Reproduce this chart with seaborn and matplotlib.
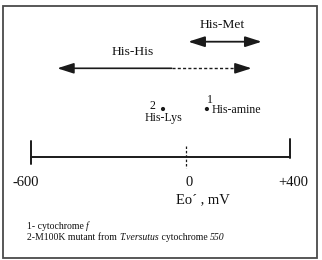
import matplotlib
matplotlib.use("Agg")
import matplotlib.pyplot as plt
from matplotlib.patches import Rectangle
import seaborn as sns
import pandas as pd

sns.set_style("white")
plt.rcParams['font.family'] = ['Liberation Serif', 'DejaVu Serif']

# ---- data (mV) ----
axis_ticks = [-600, 0, 400]
tick_labels = ["-600", "0", "+400"]
his_his_range = [-497, 251]     # His-His arrow extent
his_his_solid_end = -57         # solid part ends, dashed continues
his_met_range = [7, 290]        # His-Met arrow extent
point_names = ["His-Lys", "His-amine"]
point_ids = ["2", "1"]
point_values = [-90, 79]
axis_label = "Eo\u00b4 , mV"

# ---- layout ----
W, H = 322, 260
fig = plt.figure(figsize=(W / 100, H / 100), dpi=100)
ax = fig.add_axes([0, 0, 1, 1])
ax.set_xlim(-717.5, 522.0)   # px = 186.4 + 0.2598*mV
ax.set_ylim(H, 0)
ax.axis("off")

line_c = "#1a1a1a"
txt_c = "#111111"

# frame
fig.patches.append(Rectangle((2.5 / W, 1 - 258 / H), (317 - 2.5) / W, (258 - 5.5) / H,
                             transform=fig.transFigure, fill=False,
                             edgecolor="#4a4a4a", linewidth=1.3))

# main axis line
y_axis = 156.7
sns.lineplot(x=[axis_ticks[0], axis_ticks[-1]], y=[y_axis, y_axis], ax=ax,
             color=line_c, linewidth=1.4, sort=False)
# end ticks
ax.plot([axis_ticks[0]] * 2, [141, 164], color=line_c, linewidth=1.4)
ax.plot([axis_ticks[2]] * 2, [139, 158], color=line_c, linewidth=1.4)
# center dashed tick
ax.plot([axis_ticks[1]] * 2, [146, 168], color=line_c, linewidth=0.9,
        linestyle=(0, (2, 1.5)))

# tick labels
label_dx = [-20, 10, 12]
for v, lab, dx in zip(axis_ticks, tick_labels, label_dx):
    ax.text(v + dx, 182, lab, ha="center", va="center", fontsize=10.5, color=txt_c)
ax.text(64, 200, axis_label, ha="center", va="center", fontsize=10.5, color=txt_c)

# arrows
astyle = "-|>,head_length=1.0,head_width=0.32"
def head(tip, y, direction):
    ax.annotate("", xy=(tip, y), xytext=(tip - direction * 40, y),
                arrowprops=dict(arrowstyle=astyle, color=line_c, lw=1.2,
                                mutation_scale=10, shrinkA=0, shrinkB=0))

# His-Met
y_met = 41.7
ax.annotate("", xy=(his_met_range[1], y_met), xytext=(his_met_range[0], y_met),
            arrowprops=dict(arrowstyle="<|-|>,head_length=1.0,head_width=0.32",
                            color=line_c, lw=1.3, mutation_scale=10,
                            shrinkA=0, shrinkB=0))
ax.text((his_met_range[0] + his_met_range[1]) / 2 - 12, 25, "His-Met",
        ha="center", va="center", fontsize=9.7, color=txt_c)

# His-His
y_his = 68.3
ax.annotate("", xy=(his_his_range[0], y_his), xytext=(his_his_solid_end, y_his),
            arrowprops=dict(arrowstyle=astyle, color=line_c, lw=1.2,
                            mutation_scale=10, shrinkA=0, shrinkB=0))
ax.plot([his_his_solid_end, his_his_range[1] - 30], [y_his, y_his], color=line_c,
        linewidth=1.0, linestyle=(0, (2.2, 1.6)))
head(his_his_range[1], y_his, 1)
ax.text(-206, 52, "His-His", ha="center", va="center", fontsize=9.7, color=txt_c)

# points
pts = pd.DataFrame({"mV": point_values, "y": [109, 109], "name": point_names})
sns.scatterplot(data=pts, x="mV", y="y", ax=ax, color=line_c, s=9,
                edgecolor="none", legend=False)
ax.text(point_values[0] - 42, 106, point_ids[0], ha="center", va="center",
        fontsize=8.6, color=txt_c)
ax.text(point_values[0], 118.5, point_names[0], ha="center", va="center",
        fontsize=8.6, color=txt_c)
ax.text(point_values[1] + 12, 100, point_ids[1], ha="center", va="center",
        fontsize=8.6, color=txt_c)
ax.text(point_values[1] + 19, 110, point_names[1], ha="left", va="center",
        fontsize=8.6, color=txt_c)

# footnotes
def chain(pieces, x, y, size=7):
    prev = None
    for s, style in pieces:
        if prev is None:
            prev = ax.text(x, y, s, ha="left", va="bottom", fontsize=size,
                           style=style, color=txt_c)
        else:
            prev = ax.annotate(s, xy=(1, 0), xycoords=prev, ha="left", va="bottom",
                               fontsize=size, style=style, color=txt_c)

chain([("1- cytochrome ", "normal"), ("f", "italic")], -614, 231)
chain([("2-M100K mutant from ", "normal"), ("T.versutus", "italic"),
       (" cytochrome ", "normal"), ("550", "italic")], -614, 242)

fig.savefig("out.png", dpi=100)
